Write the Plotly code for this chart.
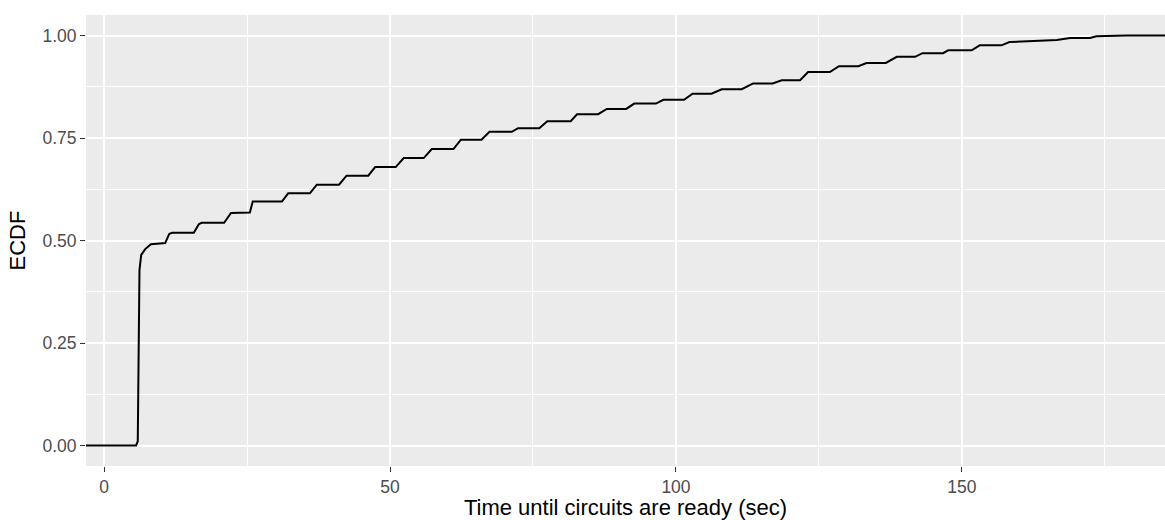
import plotly.graph_objects as go

# ECDF curve (time in sec, cumulative share)
time_sec = [-5, 5.6, 5.9, 6.2, 6.5, 7.2, 8.2, 10.7, 11.4, 11.9, 15.7, 16.6, 17.1, 21.0,
            22.2, 25.5, 26.0, 31.1, 32.2, 36.0, 37.2, 41.1, 42.4, 46.2, 47.4, 51.0,
            52.4, 55.9, 57.3, 61.1, 62.4, 66.0, 67.4, 71.3, 72.4, 76.1, 77.5, 81.6,
            82.7, 86.4, 87.9, 91.3, 92.7, 96.5, 97.8, 101.4, 102.9, 106.2, 108.0,
            111.5, 113.5, 116.9, 118.5, 121.7, 123.1, 126.9, 128.5, 131.9, 133.3,
            136.7, 138.6, 141.8, 143.1, 146.7, 147.6, 151.7, 153.1, 156.9, 158.3,
            166.6, 168.9, 172.4, 173.5, 178.8, 195]
ecdf = [0.0, 0.0, 0.01, 0.428, 0.465, 0.479, 0.491, 0.494, 0.516, 0.519, 0.519, 0.540,
        0.543, 0.543, 0.567, 0.568, 0.595, 0.595, 0.615, 0.615, 0.636, 0.636, 0.658,
        0.658, 0.679, 0.679, 0.701, 0.701, 0.723, 0.723, 0.746, 0.746, 0.765, 0.765,
        0.774, 0.774, 0.791, 0.791, 0.808, 0.808, 0.821, 0.821, 0.834, 0.834, 0.843,
        0.843, 0.858, 0.858, 0.869, 0.869, 0.883, 0.883, 0.891, 0.891, 0.911, 0.911,
        0.925, 0.925, 0.933, 0.933, 0.948, 0.948, 0.957, 0.957, 0.964, 0.964, 0.976,
        0.976, 0.984, 0.989, 0.994, 0.994, 0.998, 1.0, 1.0]

x_ticks = [0, 50, 100, 150]
y_ticks = [0.0, 0.25, 0.5, 0.75, 1.0]
y_labels = ["0.00", "0.25", "0.50", "0.75", "1.00"]

fig = go.Figure()
fig.add_trace(go.Scatter(x=time_sec, y=ecdf, mode="lines",
                         line=dict(color="black", width=2), showlegend=False))

axis_font = dict(family="Liberation Sans, Arial", size=17.5, color="#4D4D4D")
title_font = dict(family="Liberation Sans, Arial", size=22, color="black")

fig.update_xaxes(range=[-3.15, 185.5], tickvals=x_ticks, ticks="outside", ticklen=5,
                 tickwidth=1.1, tickcolor="#333333", tickfont=axis_font,
                 gridcolor="white", gridwidth=1.8, zeroline=False, showline=False,
                 minor=dict(tick0=0, dtick=25, showgrid=True, gridcolor="white", gridwidth=0.9),
                 title=dict(text="Time until circuits are ready (sec)", font=title_font, standoff=4))
fig.update_yaxes(range=[-0.05, 1.05], tickvals=y_ticks, ticktext=y_labels, ticks="outside",
                 ticklen=5, tickwidth=1.1, tickcolor="#333333", tickfont=axis_font,
                 gridcolor="white", gridwidth=1.8, zeroline=False, showline=False,
                 minor=dict(tick0=0, dtick=0.125, showgrid=True, gridcolor="white", gridwidth=0.9),
                 title=dict(text="ECDF", font=title_font, standoff=10))

fig.update_layout(width=1165, height=520, paper_bgcolor="white", plot_bgcolor="#EBEBEB",
                  margin=dict(l=86, r=0, t=15, b=54, autoexpand=False))

# drop the default page margin so the figure fills the window exactly
fig.write_html("out.html", config={"displayModeBar": False},
               post_script="document.body.style.margin='0';document.body.style.overflow='hidden';")
